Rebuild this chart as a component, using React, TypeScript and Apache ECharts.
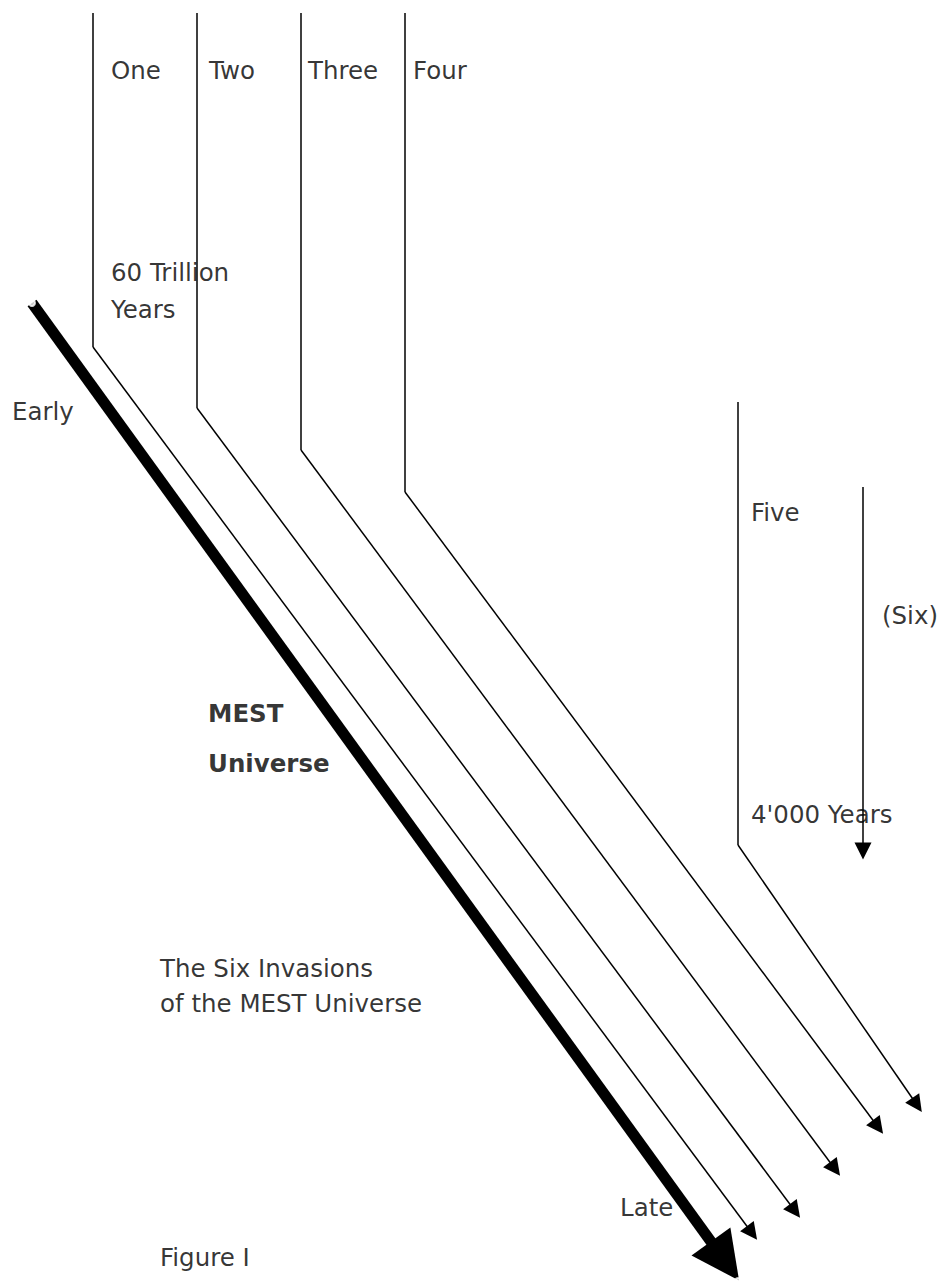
import React, { useEffect, useRef } from "react";
import * as echarts from "echarts";

// Invasion paths: [x, y] vertices (vertical drop, then diagonal with arrow)
const invasionNames = ["One", "Two", "Three", "Four", "Five", "(Six)"];
const verticalTops: number[][] = [[93, 13], [197, 13], [301, 13], [405, 13], [738, 402], [863, 487]];
const bendPoints: number[][] = [[93, 347], [197, 408], [301, 450], [405, 492], [738, 845], [863, 850]];
const arrowEnds: number[][] = [[752, 1233], [795, 1211], [835, 1169], [878, 1127], [917, 1105], [863, 850]];

// Thick MEST universe arrow
const mestStart: number[] = [32, 303];
const mestEnd: number[] = [725, 1261];
const mestEndDot: number[] = [738, 1281];

// Text labels: [x, y, text]
const labelTexts = [
  "One", "Two", "Three", "Four", "60 Trillion", "Years", "Early",
  "Five", "(Six)", "4'000 Years", "The Six Invasions", "of the MEST Universe",
  "Late", "Figure I",
];
const labelPos: number[][] = [
  [111, 70], [209, 70], [308, 70], [413, 70], [111, 272], [111, 309], [12, 411],
  [751, 512], [882, 615], [751, 814], [160, 968], [160, 1003], [620, 1207], [160, 1257],
];
const boldTexts = ["MEST", "Universe"];
const boldPos: number[][] = [[208, 713], [208, 763]];

export default function App() {
  const ref = useRef<HTMLDivElement>(null);
  useEffect(() => {
    if (!ref.current) return;
    const chart = echarts.init(ref.current, null, { renderer: "svg" });
    const font = "DejaVu Sans";
    const plainSegs = verticalTops.map((t, i) => ({ coords: [t, bendPoints[i]] }));
    const arrowSegs = bendPoints.map((b, i) => ({ coords: [b, arrowEnds[i]] }));
    // Six is a single straight arrow: its vertical part carries the arrow
    const sixArrow = { coords: [verticalTops[5], [863, 851]] };
    const option: any = {
      animation: false,
      backgroundColor: "#ffffff",
      grid: { left: 0, right: 0, top: 0, bottom: 0 },
      xAxis: { type: "value", min: 0, max: 941, show: false },
      yAxis: { type: "value", min: 0, max: 1284, inverse: true, show: false },
      series: [
        {
          type: "lines",
          coordinateSystem: "cartesian2d",
          silent: true,
          symbol: ["none", "none"],
          lineStyle: { color: "#000", width: 1.5, opacity: 1 },
          data: plainSegs.slice(0, 5),
        },
        {
          type: "lines",
          coordinateSystem: "cartesian2d",
          silent: true,
          symbol: ["none", "triangle"],
          symbolSize: [13, 17],
          lineStyle: { color: "#000", width: 1.5, opacity: 1 },
          data: [...arrowSegs.slice(0, 5), sixArrow],
        },
        {
          type: "lines",
          coordinateSystem: "cartesian2d",
          silent: true,
          symbol: ["none", "triangle"],
          symbolSize: [46, 48],
          lineStyle: { color: "#000", width: 11, opacity: 1 },
          data: [{ coords: [mestStart, mestEnd] }],
        },
        {
          type: "scatter",
          silent: true,
          symbol: "emptyCircle",
          symbolSize: 6,
          itemStyle: { color: "#fff", borderColor: "#000", borderWidth: 1 },
          data: [mestStart, mestEndDot],
          z: 5,
        },
        {
          type: "scatter",
          silent: true,
          symbolSize: 0,
          data: labelPos.map((p, i) => ({ value: p, name: labelTexts[i] })),
          label: {
            show: true,
            position: "right",
            distance: 0,
            formatter: (p: any) => p.name,
            color: "#000000",
            fontFamily: font,
            fontSize: 24.5,
          },
        },
        {
          type: "scatter",
          silent: true,
          symbolSize: 0,
          data: boldPos.map((p, i) => ({ value: p, name: boldTexts[i] })),
          label: {
            show: true,
            position: "right",
            distance: 0,
            formatter: (p: any) => p.name,
            color: "#000000",
            fontFamily: font,
            fontWeight: "bold",
            fontSize: 24.5,
          },
        },
      ],
    };
    chart.setOption(option);
    return () => chart.dispose();
  }, []);
  return (
    <div
      ref={ref}
      style={{ position: "absolute", left: 0, top: 0, width: 941, height: 1284 }}
    />
  );
}
